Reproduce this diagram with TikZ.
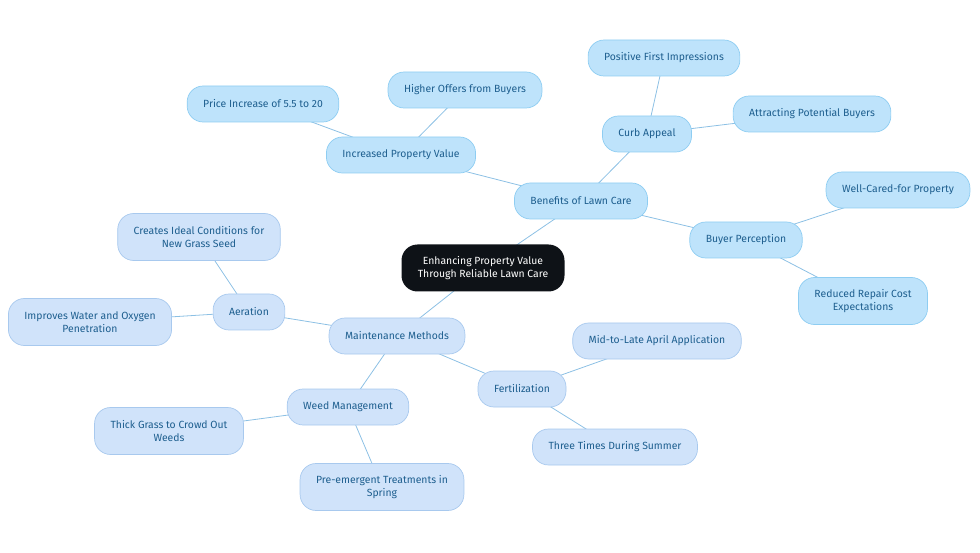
\documentclass[tikz,border=0pt]{standalone}
\usepackage{fontspec}
\setmainfont{Fira Sans}
\usetikzlibrary{backgrounds}
\definecolor{rootfill}{HTML}{0E1217}
\definecolor{upfill}{HTML}{BEE3FB}
\definecolor{updraw}{HTML}{8ECDF2}
\definecolor{lowfill}{HTML}{D0E3FA}
\definecolor{lowdraw}{HTML}{A8C9EE}
\definecolor{labeltext}{HTML}{1E5F8F}
\definecolor{linkline}{HTML}{8CC0E4}
\tikzset{
  topic/.style={rounded corners=16pt, align=center, inner xsep=16pt,
    minimum height=36pt, text=labeltext,
    font=\fontsize{10.4}{12.5}\selectfont},
  upbox/.style={topic, fill=upfill, draw=updraw, line width=0.7pt},
  lowbox/.style={topic, fill=lowfill, draw=lowdraw, line width=0.7pt},
  rootbox/.style={rounded corners=16pt, align=center, fill=rootfill,
    text=white, minimum width=163pt, minimum height=47pt,
    font=\fontsize{10.4}{12.5}\selectfont},
  link/.style={draw=linkline, line width=0.8pt}
}
\begin{document}
\begin{tikzpicture}[x=1pt,y=-1pt]
  \useasboundingbox (0,0) rectangle (980,553);
  % root
  \node[rootbox] (root) at (483,268) {Enhancing Property Value\\Through Reliable Lawn Care};
  % benefits branch
  \node[upbox] (benefit) at (581,201) {Benefits of Lawn Care};
  \node[upbox] (value) at (401,155) {Increased Property Value};
  \node[upbox] (price) at (263,104) {Price Increase of 5.5 to 20};
  \node[upbox] (offers) at (465,90) {Higher Offers from Buyers};
  \node[upbox] (curb) at (647,134) {Curb Appeal};
  \node[upbox] (first) at (664,58) {Positive First Impressions};
  \node[upbox] (attract) at (812,114) {Attracting Potential Buyers};
  \node[upbox] (percept) at (746,240) {Buyer Perception};
  \node[upbox] (cared) at (898,190) {Well-Cared-for Property};
  \node[upbox, minimum height=47pt] (repair) at (863,301) {Reduced Repair Cost\\Expectations};
  % maintenance branch
  \node[lowbox] (maint) at (397,336) {Maintenance Methods};
  \node[lowbox] (aerate) at (249,312) {Aeration};
  \node[lowbox, minimum height=47pt] (seed) at (199,237) {Creates Ideal Conditions for\\New Grass Seed};
  \node[lowbox, minimum height=47pt] (water) at (90,322) {Improves Water and Oxygen\\Penetration};
  \node[lowbox] (weed) at (348,407) {Weed Management};
  \node[lowbox, minimum height=47pt] (thick) at (169,431) {Thick Grass to Crowd Out\\Weeds};
  \node[lowbox, minimum height=47pt] (spring) at (382,487) {Pre-emergent Treatments in\\Spring};
  \node[lowbox] (fert) at (522,389) {Fertilization};
  \node[lowbox] (april) at (657,341) {Mid-to-Late April Application};
  \node[lowbox] (summer) at (615,447) {Three Times During Summer};
  % connectors
  \begin{scope}[on background layer]
    \draw[link] (root.center) -- (benefit.center);
    \draw[link] (benefit.center) -- (value.center);
    \draw[link] (value.center) -- (price.center);
    \draw[link] (value.center) -- (offers.center);
    \draw[link] (benefit.center) -- (curb.center);
    \draw[link] (curb.center) -- (first.center);
    \draw[link] (curb.center) -- (attract.center);
    \draw[link] (benefit.center) -- (percept.center);
    \draw[link] (percept.center) -- (cared.center);
    \draw[link] (percept.center) -- (repair.center);
    \draw[link] (root.center) -- (maint.center);
    \draw[link] (maint.center) -- (aerate.center);
    \draw[link] (aerate.center) -- (seed.center);
    \draw[link] (aerate.center) -- (water.center);
    \draw[link] (maint.center) -- (weed.center);
    \draw[link] (weed.center) -- (thick.center);
    \draw[link] (weed.center) -- (spring.center);
    \draw[link] (maint.center) -- (fert.center);
    \draw[link] (fert.center) -- (april.center);
    \draw[link] (fert.center) -- (summer.center);
  \end{scope}
\end{tikzpicture}
\end{document}
